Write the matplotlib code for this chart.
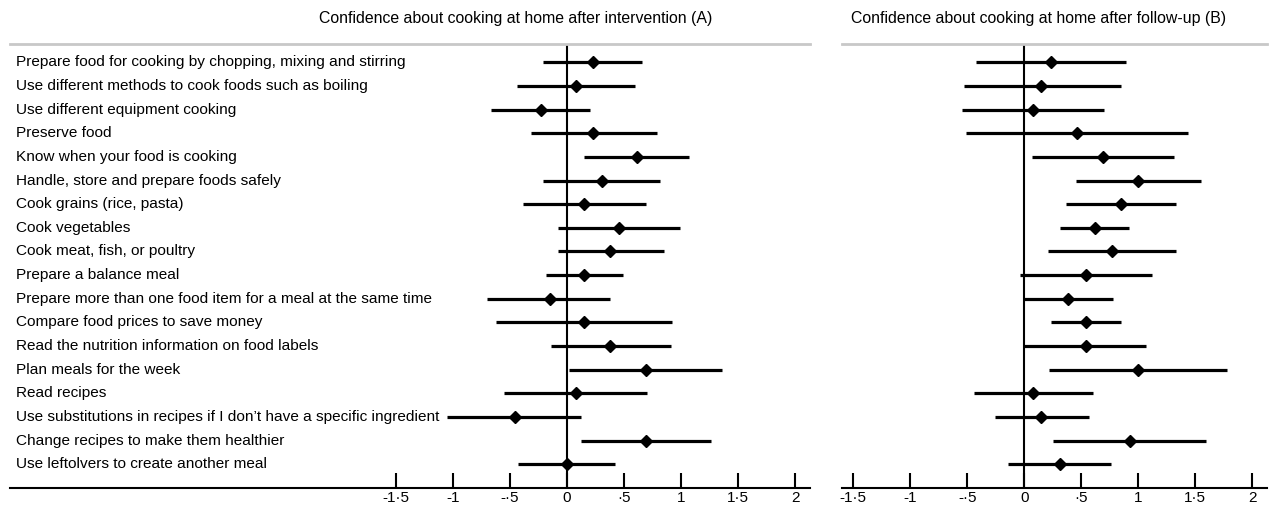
import matplotlib.pyplot as plt
from matplotlib.transforms import blended_transform_factory

plt.rcParams['font.family'] = ['Liberation Sans', 'DejaVu Sans']

items = [
    "Prepare food for cooking by chopping, mixing and stirring",
    "Use different methods to cook foods such as boiling",
    "Use different equipment cooking",
    "Preserve food",
    "Know when your food is cooking",
    "Handle, store and prepare foods safely",
    "Cook grains (rice, pasta)",
    "Cook vegetables",
    "Cook meat, fish, or poultry",
    "Prepare a balance meal",
    "Prepare more than one food item for a meal at the same time",
    "Compare food prices to save money",
    "Read the nutrition information on food labels",
    "Plan meals for the week",
    "Read recipes",
    "Use substitutions in recipes if I don\u2019t have a specific ingredient",
    "Change recipes to make them healthier",
    "Use leftolvers to create another meal",
]

# (A) after intervention
a_est = [0.23, 0.08, -0.23, 0.23, 0.61, 0.31, 0.15, 0.46, 0.38, 0.15,
         -0.15, 0.15, 0.38, 0.69, 0.08, -0.46, 0.69, 0.00]
a_lo = [-0.21, -0.44, -0.67, -0.32, 0.15, -0.21, -0.39, -0.08, -0.08, -0.18,
        -0.70, -0.62, -0.14, 0.02, -0.55, -1.05, 0.12, -0.43]
a_hi = [0.66, 0.60, 0.20, 0.79, 1.07, 0.82, 0.69, 0.99, 0.85, 0.49,
        0.38, 0.92, 0.91, 1.36, 0.70, 0.12, 1.26, 0.42]

# (B) after follow-up
b_est = [0.23, 0.15, 0.08, 0.46, 0.69, 1.00, 0.85, 0.62, 0.77, 0.54,
         0.38, 0.54, 0.54, 1.00, 0.08, 0.15, 0.93, 0.31]
b_lo = [-0.42, -0.53, -0.55, -0.51, 0.07, 0.45, 0.37, 0.31, 0.21, -0.04,
        0.00, 0.23, 0.00, 0.22, -0.44, -0.26, 0.25, -0.14]
b_hi = [0.89, 0.85, 0.70, 1.44, 1.31, 1.55, 1.33, 0.92, 1.33, 1.12,
        0.78, 0.85, 1.07, 1.78, 0.60, 0.57, 1.59, 0.76]

ticks = [-1.5, -1, -0.5, 0, 0.5, 1, 1.5, 2]
tick_labels = ["-1\u00b75", "-1", "-\u00b75", "0", "\u00b75", "1", "1\u00b75", "2"]

W, H = 1270, 513
fig = plt.figure(figsize=(12.7, 5.13), dpi=100)

top, bot = 44, 488.3
axA = fig.add_axes([10 / W, 1 - bot / H, 800 / W, (bot - top) / H])
axB = fig.add_axes([842 / W, 1 - bot / H, 425 / W, (bot - top) / H])


def panel(ax, est, lo, hi, xlim):
    n = len(est)
    rows = list(range(n))
    for i in rows:
        ax.plot([lo[i], hi[i]], [i, i], color='black', lw=2.3,
                solid_capstyle='butt', zorder=2)
    ax.plot(est, rows, linestyle='none', marker='D', ms=6.5,
            color='black', zorder=3)
    ax.axvline(0, color='black', lw=1.5, zorder=1)
    ax.set_xlim(*xlim)
    ax.set_ylim(n - 1 + 1.015, -0.774)
    ax.set_yticks([])
    ax.set_xticks(ticks)
    ax.set_xticklabels(tick_labels, fontsize=11)
    ax.tick_params(axis='x', direction='in', length=11, width=1.5,
                   pad=2, colors='black')
    for s in ['left', 'right']:
        ax.spines[s].set_visible(False)
    ax.spines['bottom'].set_linewidth(1.5)
    ax.spines['top'].set_color('#c8c8c8')
    ax.spines['top'].set_linewidth(2)
    ax.patch.set_alpha(0)


panel(axA, a_est, a_lo, a_hi, ((10 - 567) / 114, (810 - 567) / 114))
panel(axB, b_est, b_lo, b_hi, ((842 - 1024.3) / 114, (1267 - 1024.3) / 114))

trans = blended_transform_factory(axA.transAxes, axA.transData)
for i, lab in enumerate(items):
    axA.text(6 / 800, i, lab, transform=trans, ha='left', va='center',
             fontsize=11.1)

fig.text(516 / W, 1 - 18 / H, "Confidence about cooking at home after intervention (A)",
         ha='center', va='center', fontsize=11.4)
fig.text(1039 / W, 1 - 18 / H, "Confidence about cooking at home after follow-up (B)",
         ha='center', va='center', fontsize=11.4)

fig.savefig('out.png', dpi=100)
